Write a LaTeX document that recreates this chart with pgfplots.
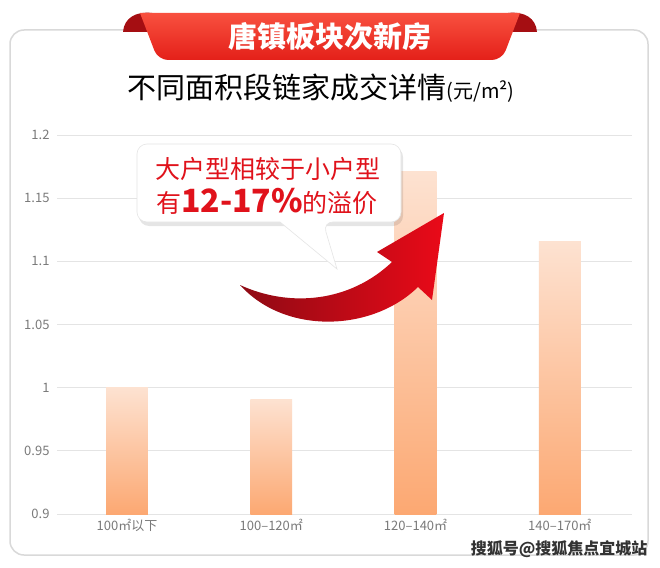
\documentclass[border=0pt]{standalone}
\usepackage{fontspec}
\setmainfont{Noto Sans CJK SC}
\usepackage{pgfplots}
\pgfplotsset{compat=1.18}

\definecolor{barTop}{HTML}{FDE2D1}
\definecolor{barBot}{HTML}{FCA872}
\definecolor{gridc}{HTML}{E4E4E4}
\definecolor{tickc}{HTML}{7A7A7A}
\definecolor{redtxt}{HTML}{E0121B}
\definecolor{bannerTop}{HTML}{F8503F}
\definecolor{bannerBot}{HTML}{E42019}
\definecolor{curl}{HTML}{A50E12}
\definecolor{arrowDark}{HTML}{8E0A14}
\definecolor{arrowLight}{HTML}{EA0A18}

\begin{document}
\begin{tikzpicture}[x=1pt,y=1pt]
% page and card
\fill[white] (0,0) rectangle (660,-567);
\path[use as bounding box] (0,0) rectangle (660,-567);
\draw[gray!30, line width=1.5pt, rounded corners=14pt] (10,-30) rectangle (648,-555);

% banner
\fill[curl] (123,-32) .. controls (124,-18) and (136,-11) .. (152,-13) -- (152,-32) -- cycle;
\fill[curl] (537,-32) .. controls (536,-18) and (524,-11) .. (508,-13) -- (508,-32) -- cycle;
\shade[top color=bannerTop, bottom color=bannerBot, rounded corners=8pt]
  (140,-13) [sharp corners]-- (520,-13) [rounded corners=10pt]-- (502,-60) -- (158,-60) [sharp corners]-- cycle;
\node[text=white, font=\fontsize{29}{32}\selectfont\bfseries] at (330,-37) {唐镇板块次新房};

% subtitle
\node[anchor=base west, font=\fontsize{29}{32}\selectfont, inner sep=0pt] (st) at (127,-99) {不同面积段链家成交详情};
\node[anchor=base west, font=\fontsize{20}{22}\selectfont, inner sep=0pt] at (st.base east) {(元/m²)};

\begin{axis}[
  at={(57pt,-514pt)}, anchor=south west,
  scale only axis, width=575pt, height=379pt,
  xmin=-0.485, xmax=3.5, ymin=0.9, ymax=1.2,
  axis line style={draw=none},
  tick style={draw=none},
  ymajorgrids, major grid style={gridc, line width=1pt},
  ytick={0.9,0.95,1,1.05,1.1,1.15,1.2},
  yticklabels={0.9,0.95,1,1.05,1.1,1.15,1.2},
  xtick={0,1,2,3},
  xticklabels={100㎡以下,100–120㎡,120–140㎡,140–170㎡},
  /pgf/number format/assume math mode=true,
  ticklabel style={text=tickc, font=\fontsize{13}{15}\selectfont},
  yticklabel style={xshift=-4pt},
  xticklabel style={yshift=-2pt},
  clip=false,
]
\addplot[draw=none, top color=barTop, bottom color=barBot] coordinates {(-0.145,0.9) (-0.145,1.000) (0.145,1.000) (0.145,0.9)} -- cycle;
\addplot[draw=none, top color=barTop, bottom color=barBot] coordinates {(0.855,0.9) (0.855,0.991) (1.145,0.991) (1.145,0.9)} -- cycle;
\addplot[draw=none, top color=barTop, bottom color=barBot] coordinates {(1.855,0.9) (1.855,1.171) (2.145,1.171) (2.145,0.9)} -- cycle;
\addplot[draw=none, top color=barTop, bottom color=barBot] coordinates {(2.855,0.9) (2.855,1.116) (3.145,1.116) (3.145,0.9)} -- cycle;
\end{axis}

% callout
\fill[black, opacity=0.10, rounded corners=10pt] (139,-147) rectangle (403,-226);
\filldraw[fill=white, draw=gray!20, line width=0.6pt, rounded corners=10pt]
  (137,-144) -- (401,-144) -- (401,-222) -- (323,-222) [sharp corners]-- (337,-269) -- (280,-222) [rounded corners=10pt]-- (137,-222) -- cycle;
\node[text=redtxt, font=\fontsize{25}{28}\selectfont] at (268,-169) {大户型相较于小户型};
\node[text=redtxt, font=\fontsize{25}{28}\selectfont] at (267,-201) {有{\fontsize{32}{34}\selectfont\bfseries 12-17\%}的溢价};

% curved arrow
\shade[left color=arrowDark, right color=arrowLight]
  (240,-285) .. controls (290,-308) and (350,-302) .. (392,-262)
  -- (377,-252) -- (444,-213) -- (432,-300) -- (418,-287)
  .. controls (372,-332) and (285,-335) .. (240,-285) -- cycle;

% watermark
\node[anchor=east, text=black!80, font=\fontsize{16}{18}\selectfont\bfseries, draw=none] at (651,-549) {搜狐号@搜狐焦点宜城站};
\end{tikzpicture}
\end{document}
